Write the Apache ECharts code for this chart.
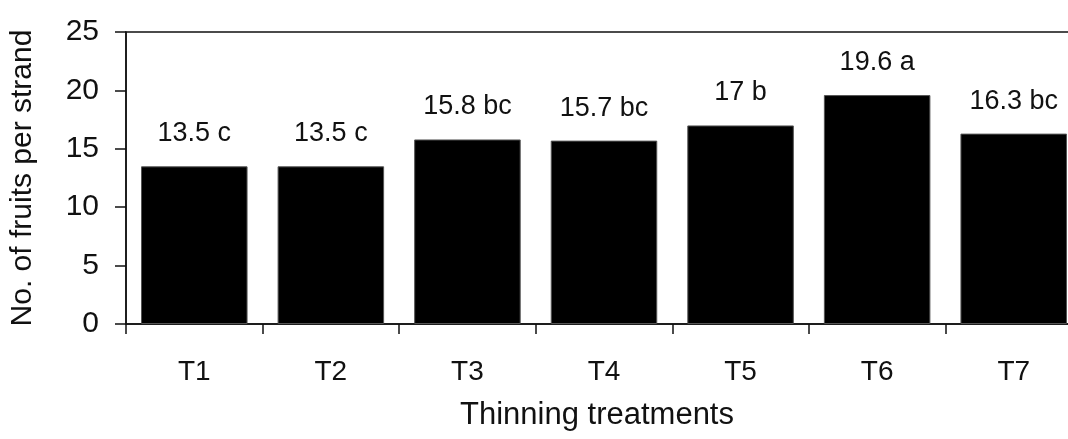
<!DOCTYPE html>
<html>
<head>
<meta charset="utf-8">
<script src="https://cdn.jsdelivr.net/npm/echarts@6/dist/echarts.min.js"></script>
<style>
    html, body { margin: 0; padding: 0; background: #fff; }
    #chart { width: 1068px; height: 439px; }
</style>
</head>
<body>
<div id="chart"></div>
<script>
// treatments and mean fruits per strand, with significance letters
const treatments = ['T1', 'T2', 'T3', 'T4', 'T5', 'T6', 'T7'];
const fruits = [13.5, 13.5, 15.8, 15.7, 17, 19.6, 16.3];
const letters = ['c', 'c', 'bc', 'bc', 'b', 'a', 'bc'];
const yTicks = [0, 5, 10, 15, 20, 25];

const font = 'Arial, "Liberation Sans", sans-serif';

let chart = echarts.init(document.getElementById('chart'));

chart.setOption({
    animation: false,
    textStyle: { fontFamily: font, color: '#111' },
    // plot runs a little past the right edge of the picture, like the original
    grid: {
        left: 126,
        top: 32,
        height: 292,
        width: 956,
        outerBoundsMode: 'none',
        containLabel: false,
        show: true,
        borderColor: '#111',
        borderWidth: 1.5
    },
    xAxis: {
        type: 'category',
        data: treatments,
        name: 'Thinning treatments',
        nameLocation: 'middle',
        nameGap: 76,
        nameTextStyle: { fontSize: 31, color: '#111', fontFamily: font, padding: [0, 14, 0, 0] },
        axisLine: { lineStyle: { color: '#111', width: 1.5 } },
        axisTick: { show: true, length: 10, lineStyle: { color: '#111', width: 1.5 } },
        axisLabel: { fontSize: 28, color: '#111', margin: 34 }
    },
    yAxis: {
        type: 'value',
        min: yTicks[0],
        max: yTicks[yTicks.length - 1],
        interval: 5,
        name: 'No. of fruits per strand',
        nameLocation: 'middle',
        nameGap: 88,
        nameTextStyle: { fontSize: 30, color: '#111', fontFamily: font },
        splitLine: { show: false },
        axisLine: { show: true, lineStyle: { color: '#111', width: 1.5 } },
        axisTick: { show: true, length: 11, lineStyle: { color: '#111', width: 1.5 } },
        axisLabel: { fontSize: 30, color: '#111', margin: 27 }
    },
    series: [
        {
            type: 'bar',
            barCategoryGap: '22%',
            data: fruits,
            itemStyle: { color: '#000', borderColor: '#555', borderWidth: 1 },
            label: {
                show: true,
                position: 'top',
                distance: 19,
                fontSize: 27,
                color: '#111',
                fontFamily: font,
                formatter: (p) => p.value + ' ' + letters[p.dataIndex]
            }
        }
    ]
});
</script>
</body>
</html>
